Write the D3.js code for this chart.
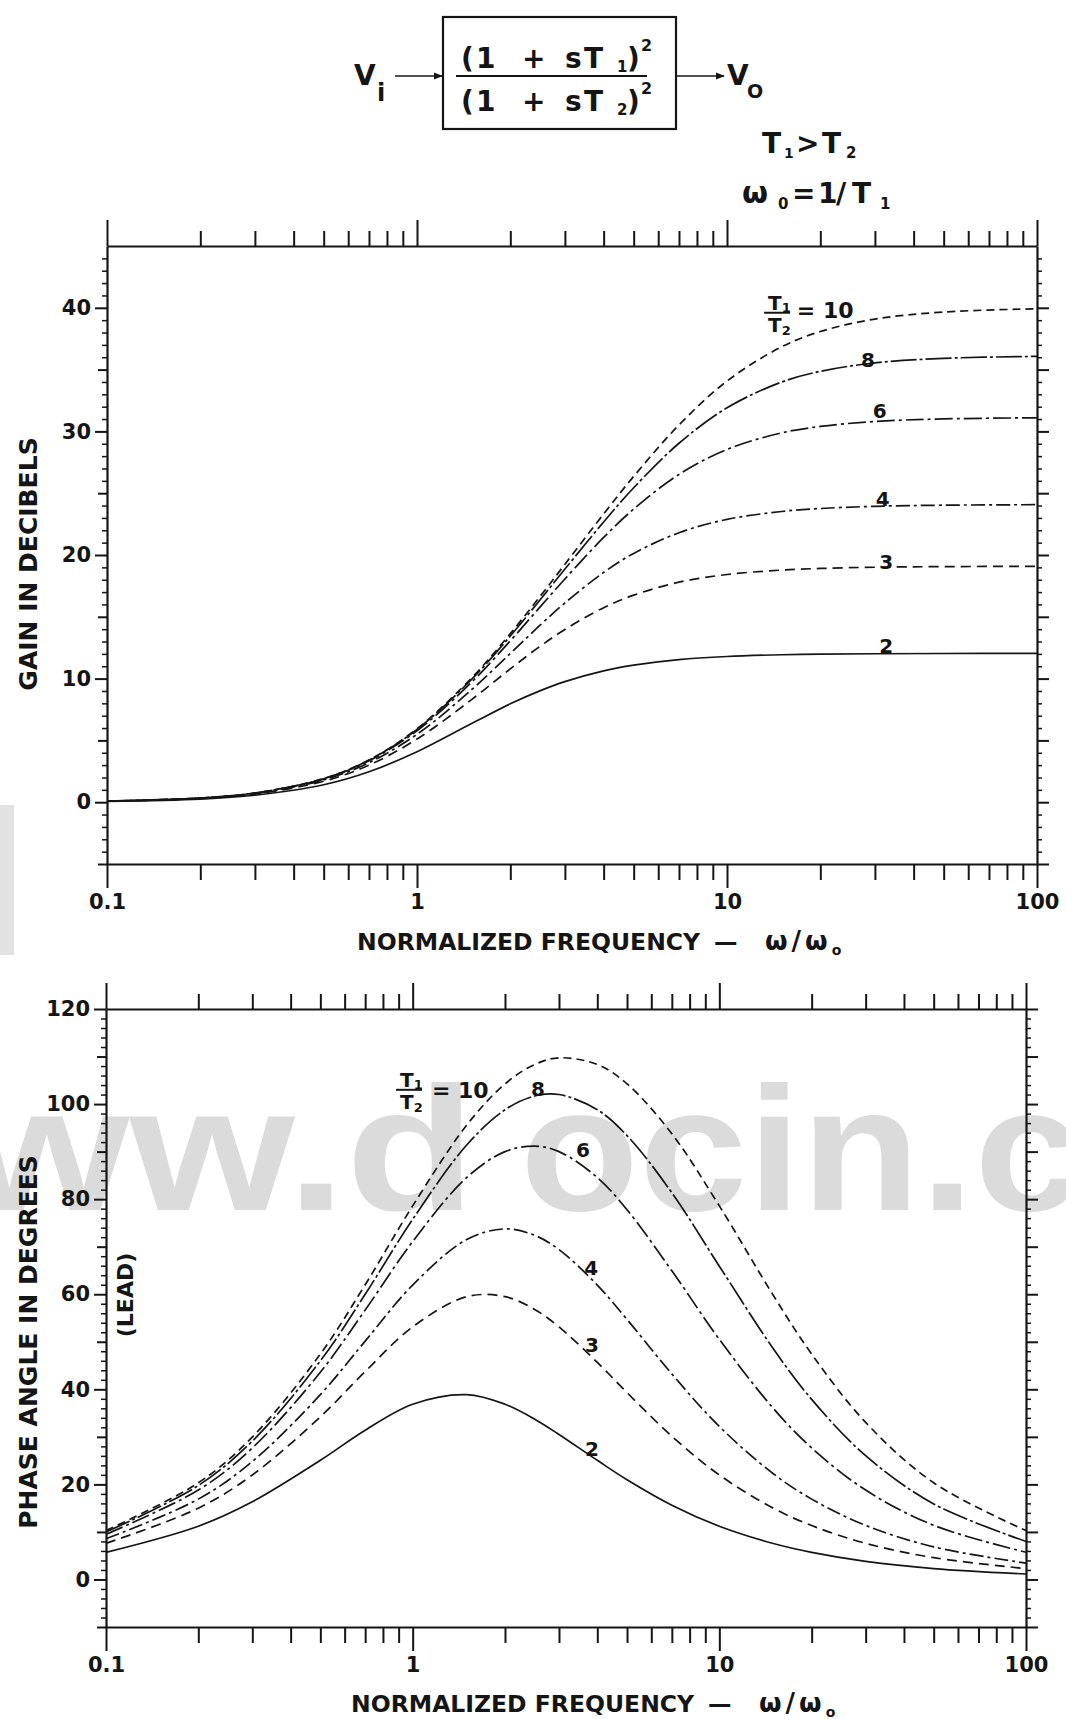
<!DOCTYPE html>
<html>
<head>
<meta charset="utf-8">
<title>Double lead network - gain and phase</title>
<style>
  body { margin: 0; background: #fff; }
  svg text { font-family: "DejaVu Sans", sans-serif; font-weight: bold; fill: #151515; }
</style>
</head>
<body>
<div id="chart"></div>
<script src="https://cdn.jsdelivr.net/npm/d3@7"></script>
<script>
// normalized frequency w/w0 where the curves were read
const freq = [0.1, 0.2, 0.3, 0.5, 0.7, 1, 1.5, 2, 2.5, 3, 4, 5, 7, 10, 15, 20, 30, 50, 100];

// gain in dB, one list per T1/T2 ratio
const gain2  = [0.07, 0.25, 0.56, 1.41, 2.46, 4.08, 6.36, 7.96, 9.03, 9.76, 10.63, 11.09, 11.54, 11.79, 11.93, 11.98, 12.01, 12.03, 12.04];
const gain3  = [0.08, 0.30, 0.66, 1.70, 3.00, 5.11, 8.30, 10.79, 12.63, 13.98, 15.74, 16.75, 17.80, 18.42, 18.78, 18.91, 19.01, 19.06, 19.08];
const gain4  = [0.08, 0.32, 0.70, 1.80, 3.20, 5.49, 9.10, 12.04, 14.34, 16.12, 18.59, 20.13, 21.80, 22.88, 23.52, 23.76, 23.94, 24.03, 24.07];
const gain6  = [0.08, 0.33, 0.73, 1.88, 3.35, 5.78, 9.71, 13.06, 15.82, 18.06, 21.42, 23.72, 26.52, 28.54, 29.88, 30.40, 30.80, 31.01, 31.10];
const gain8  = [0.09, 0.34, 0.74, 1.90, 3.40, 5.89, 9.94, 13.45, 16.40, 18.86, 22.67, 25.44, 29.04, 31.91, 33.99, 34.86, 35.54, 35.91, 36.07];
const gain10 = [0.09, 0.34, 0.74, 1.92, 3.42, 5.94, 10.05, 13.64, 16.68, 19.25, 23.32, 26.36, 30.52, 34.07, 36.84, 38.08, 39.09, 39.66, 39.92];

// phase lead in degrees
const phase2  = [5.70, 11.20, 16.34, 25.06, 31.40, 36.87, 38.88, 36.87, 33.72, 30.51, 25.06, 20.98, 15.63, 11.20, 7.56, 5.70, 3.81, 2.29, 1.15];
const phase3  = [7.60, 14.99, 21.98, 34.21, 43.72, 53.13, 59.49, 59.49, 56.79, 53.13, 45.67, 39.31, 30.14, 21.98, 14.99, 11.34, 7.60, 4.58, 2.29];
const phase4  = [8.56, 16.90, 24.82, 38.88, 50.13, 61.93, 71.51, 73.74, 72.39, 69.39, 61.93, 54.70, 43.23, 32.18, 22.24, 16.90, 11.37, 6.86, 3.44];
const phase6  = [9.51, 18.80, 27.67, 43.60, 56.68, 71.08, 84.55, 90.00, 91.16, 90.00, 84.55, 77.77, 64.94, 50.51, 35.98, 27.67, 18.80, 11.39, 5.72];
const phase8  = [9.99, 19.76, 29.10, 45.98, 59.98, 75.75, 91.38, 98.80, 101.69, 102.02, 98.80, 93.37, 81.37, 65.90, 48.52, 37.88, 26.04, 15.89, 8.00];
const phase10 = [10.28, 20.33, 29.96, 47.41, 61.98, 78.58, 95.56, 104.25, 108.33, 109.73, 108.33, 104.25, 93.76, 78.58, 59.75, 47.41, 33.05, 20.33, 10.28];

const ratios = [2, 3, 4, 6, 8, 10];
const gainSeries  = [gain2, gain3, gain4, gain6, gain8, gain10];
const phaseSeries = [phase2, phase3, phase4, phase6, phase8, phase10];

// axis ticks
const xMajor = [0.1, 1, 10, 100];
const xTickLabels = ["0.1", "1", "10", "100"];
const gainMajor = [0, 10, 20, 30, 40];
const phaseMajor = [0, 20, 40, 60, 80, 100, 120];

// where the ratio labels sit (in data units)
const gainLabels  = [[2, 32.6, 12.1], [3, 32.6, 18.9], [4, 31.8, 24.0], [6, 31.1, 31.1], [8, 28.5, 35.2]];
const phaseLabels = [[2, 3.84, 26.0], [3, 3.84, 47.9], [4, 3.82, 64.0], [6, 3.59, 88.9], [8, 2.56, 101.7]];

// line styles per ratio
const dashes = {2: null, 3: "10,6", 4: "14,4,3,4", 6: "18,4,3,4", 8: "26,3,3,3", 10: "8,5"};

const W = 1066, H = 1719;
const svg = d3.select("#chart").append("svg")
  .attr("width", W)
  .attr("height", H);

// scan watermark
svg.append("rect")
  .attr("x", 0).attr("y", 805).attr("width", 14).attr("height", 150)
  .attr("fill", "#e2e2e2");
[["translate(-201,1210) scale(1.2,1)", "www.d"], ["translate(520,1210) scale(1.1,1)", "ocin.com"]]
  .forEach(([tf, txt]) => {
    svg.append("text")
      .attr("transform", tf)
      .style("font-family", "'Liberation Sans', Arial, sans-serif")
      .style("font-weight", "bold")
      .style("font-size", "177px")
      .style("fill", "#dbdbdb")
      .text(txt);
  });

// ---- block diagram at the top ----
const defs = svg.append("defs");
defs.append("marker")
  .attr("id", "arrow")
  .attr("viewBox", "0 0 10 10")
  .attr("refX", 9).attr("refY", 5)
  .attr("markerWidth", 9).attr("markerHeight", 9)
  .attr("markerUnits", "userSpaceOnUse")
  .attr("orient", "auto")
  .append("path")
  .attr("d", "M0,1 L10,5 L0,9 Z")
  .attr("fill", "#151515");

const diag = svg.append("g");
diag.append("rect")
  .attr("x", 443).attr("y", 17).attr("width", 233).attr("height", 112)
  .attr("fill", "none").attr("stroke", "#151515").attr("stroke-width", 2.2);
diag.append("line")
  .attr("x1", 456).attr("x2", 647).attr("y1", 76).attr("y2", 76)
  .attr("stroke", "#151515").attr("stroke-width", 2.2);
diag.append("line")
  .attr("x1", 395).attr("x2", 442).attr("y1", 76).attr("y2", 76)
  .attr("stroke", "#151515").attr("stroke-width", 1.6)
  .attr("marker-end", "url(#arrow)");
diag.append("line")
  .attr("x1", 677).attr("x2", 724).attr("y1", 76).attr("y2", 76)
  .attr("stroke", "#151515").attr("stroke-width", 1.6)
  .attr("marker-end", "url(#arrow)");

function piece(g, x, y, size, txt) {
  g.append("text").attr("x", x).attr("y", y).style("font-size", size + "px").text(txt);
}
// numerator and denominator
[[68, "1"], [111, "2"]].forEach(([base, sub]) => {
  piece(diag, 461, base, 28, "(");
  piece(diag, 476, base, 28, "1");
  piece(diag, 522, base, 28, "+");
  piece(diag, 565, base, 28, "s");
  piece(diag, 584, base, 28, "T");
  piece(diag, 617, base + 4, 15, sub);
  piece(diag, 627, base, 28, ")");
  piece(diag, 641, base - 17, 16, "2");
});
piece(diag, 354, 85, 28, "V");
piece(diag, 377, 101, 24, "i");
piece(diag, 727, 85, 28, "V");
piece(diag, 747, 98, 19, "O");

// T1 > T2 and w0 = 1/T1 notes
piece(svg, 762, 153, 28, "T");
piece(svg, 784, 158, 14, "1");
piece(svg, 796, 153, 28, ">");
piece(svg, 822, 153, 28, "T");
piece(svg, 846, 158, 15, "2");
piece(svg, 742, 203, 30, "\u03c9");
piece(svg, 778, 209, 15, "0");
piece(svg, 792, 203, 28, "=");
piece(svg, 818, 203, 28, "1");
piece(svg, 836, 203, 28, "/");
piece(svg, 852, 203, 28, "T");
piece(svg, 880, 209, 15, "1");

// ---- panel helper ----
function minorDecades() {
  const out = [];
  [0.1, 1, 10].forEach(dec => {
    for (let k = 2; k <= 9; k++) out.push(+(dec * k).toFixed(2));
  });
  return out;
}
const xMinor = minorDecades();

function styleAxis(g) {
  g.attr("color", "#151515");
  g.selectAll("line").attr("stroke-width", 2);
  g.selectAll(".domain").attr("stroke-width", 2.2);
  g.selectAll("text").style("font-size", "21px");
}

function drawPanel(cfg) {
  const { x, y, yMajor, yMid, yMinor, series, labels, frac } = cfg;
  const g = svg.append("g");
  const [x0, x1] = x.range();
  const [y0, y1] = y.range();

  // x axes: bottom with labels, top outward
  g.append("g").attr("transform", `translate(0,${y0})`)
    .call(d3.axisBottom(x).tickValues(xMajor).tickSize(24).tickSizeOuter(0).tickPadding(6)
      .tickFormat((d, i) => xTickLabels[i]))
    .call(styleAxis);
  g.append("g").attr("transform", `translate(0,${y0})`)
    .call(d3.axisBottom(x).tickValues(xMinor).tickSize(16).tickFormat(""))
    .call(s => s.select(".domain").remove())
    .call(styleAxis);
  g.append("g").attr("transform", `translate(0,${y1})`)
    .call(d3.axisTop(x).tickValues(xMajor).tickSize(26).tickSizeOuter(0).tickFormat(""))
    .call(styleAxis);
  g.append("g").attr("transform", `translate(0,${y1})`)
    .call(d3.axisTop(x).tickValues(xMinor).tickSize(15).tickFormat(""))
    .call(s => s.select(".domain").remove())
    .call(styleAxis);

  // y axes: left with labels, right ticks only
  g.append("g").attr("transform", `translate(${x0},0)`)
    .call(d3.axisLeft(y).tickValues(yMajor).tickSize(12).tickSizeOuter(0).tickPadding(4))
    .call(styleAxis);
  g.append("g").attr("transform", `translate(${x0},0)`)
    .call(d3.axisLeft(y).tickValues(yMid).tickSize(9).tickFormat(""))
    .call(s => s.select(".domain").remove())
    .call(styleAxis);
  g.append("g").attr("transform", `translate(${x0},0)`)
    .call(d3.axisLeft(y).tickValues(yMinor).tickSize(5).tickFormat(""))
    .call(s => s.select(".domain").remove())
    .call(styleAxis)
    .call(s => s.selectAll("line").attr("stroke-width", 1.5));
  g.append("g").attr("transform", `translate(${x1},0)`)
    .call(d3.axisRight(y).tickValues(yMajor.concat(yMid)).tickSize(12).tickSizeOuter(0).tickFormat(""))
    .call(styleAxis);
  g.append("g").attr("transform", `translate(${x1},0)`)
    .call(d3.axisRight(y).tickValues(yMinor).tickSize(5).tickFormat(""))
    .call(s => s.select(".domain").remove())
    .call(styleAxis)
    .call(s => s.selectAll("line").attr("stroke-width", 1.5));

  // curves
  const line = d3.line()
    .x(d => x(d[0]))
    .y(d => y(d[1]))
    .curve(d3.curveCatmullRom.alpha(0.5));
  g.append("g").selectAll("path")
    .data(series.map((vals, i) => ({ r: ratios[i], pts: freq.map((f, j) => [f, vals[j]]) })))
    .join("path")
    .attr("d", d => line(d.pts))
    .attr("fill", "none")
    .attr("stroke", "#151515")
    .attr("stroke-width", 1.7)
    .attr("stroke-dasharray", d => dashes[d.r]);

  // ratio labels
  g.append("g").selectAll("text")
    .data(labels)
    .join("text")
    .attr("x", d => x(d[1]))
    .attr("y", d => y(d[2]))
    .attr("text-anchor", "middle")
    .style("font-size", "20px")
    .text(d => d[0]);

  // T1/T2 = 10 label
  const fx = x(frac.w), fy = y(frac.v);
  const fr = g.append("g");
  fr.append("text").attr("x", fx - 8).attr("y", fy - 3).style("font-size", "20px").text("T")
    .append("tspan").attr("dy", 2).style("font-size", "13px").text("1");
  fr.append("line").attr("x1", fx - 12).attr("x2", fx + 14).attr("y1", fy).attr("y2", fy)
    .attr("stroke", "#151515").attr("stroke-width", 2);
  fr.append("text").attr("x", fx - 8).attr("y", fy + 19).style("font-size", "20px").text("T")
    .append("tspan").attr("dy", 3).style("font-size", "13px").text("2");
  fr.append("text").attr("x", x(frac.eqW)).attr("y", y(frac.eqV)).style("font-size", "22px").text("= 10");

  return g;
}

function tickRange(a, b, step, skip) {
  const out = [];
  for (let v = a; v <= b; v += step) if (!skip.includes(v)) out.push(v);
  return out;
}

// gain panel
const xG = d3.scaleLog().domain([0.1, 100]).range([107, 1037]);
const yG = d3.scaleLinear().domain([-5, 45]).range([864, 246]);
drawPanel({
  x: xG, y: yG,
  yMajor: gainMajor,
  yMid: [-5, 5, 15, 25, 35],
  yMinor: tickRange(-4, 44, 1, [0, 5, 10, 15, 20, 25, 30, 35, 40]),
  series: gainSeries,
  labels: gainLabels,
  frac: { w: 14.4, v: 39.6, eqW: 16.8, eqV: 39.2 }
});

// phase panel
const xP = d3.scaleLog().domain([0.1, 100]).range([106, 1026]);
const yP = d3.scaleLinear().domain([-10, 120]).range([1627, 1009]);
drawPanel({
  x: xP, y: yP,
  yMajor: phaseMajor,
  yMid: [-10, 10, 30, 50, 70, 90, 110],
  yMinor: tickRange(-8, 118, 2, [0, 10, 20, 30, 40, 50, 60, 70, 80, 90, 100, 110]),
  series: phaseSeries,
  labels: phaseLabels,
  frac: { w: 0.966, v: 103.0, eqW: 1.156, eqV: 101.3 }
});

// axis titles
function xTitle(xPos, yPos) {
  const t = svg.append("text").attr("x", xPos).attr("y", yPos).style("font-size", "23.5px");
  t.append("tspan").text("NORMALIZED FREQUENCY");
  t.append("tspan").attr("x", xPos + 357).text("\u2014");
  t.append("tspan").attr("x", xPos + 408).style("font-size", "26px").style("letter-spacing", "4px")
    .text("\u03c9/\u03c9");
  t.append("tspan").attr("dy", 5).style("font-size", "14px").text("o");
}
xTitle(357, 950);
xTitle(351, 1712);

svg.append("text")
  .attr("transform", "translate(37,564) rotate(-90)")
  .attr("text-anchor", "middle")
  .style("font-size", "25px")
  .text("GAIN IN DECIBELS");
svg.append("text")
  .attr("transform", "translate(37,1342) rotate(-90)")
  .attr("text-anchor", "middle")
  .style("font-size", "25px")
  .text("PHASE ANGLE IN DEGREES");
svg.append("text")
  .attr("transform", "translate(133,1295) rotate(-90)")
  .attr("text-anchor", "middle")
  .style("font-size", "22px")
  .text("(LEAD)");
</script>
</body>
</html>
